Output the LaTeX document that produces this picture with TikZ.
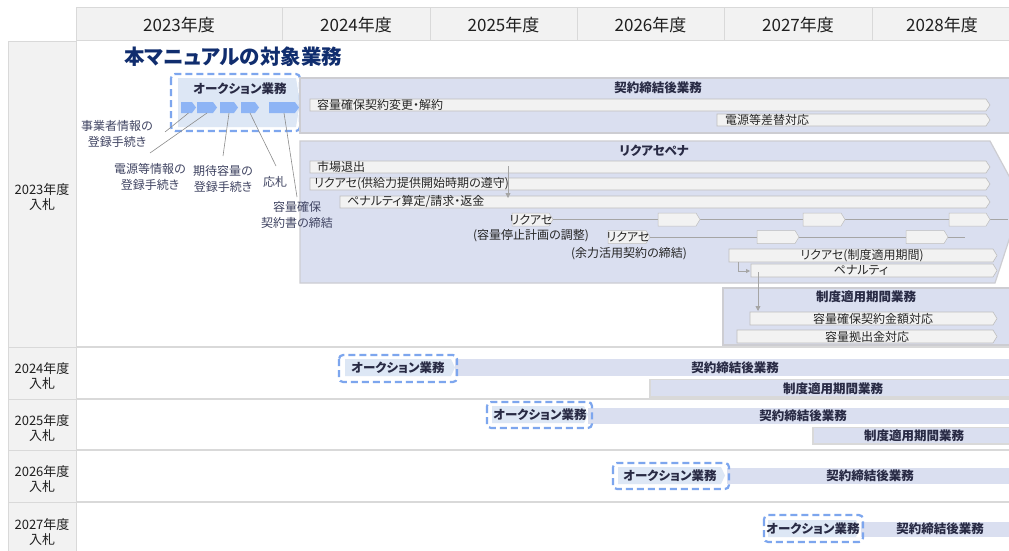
\documentclass[tikz,border=0pt]{standalone}
\usepackage{fontspec}
\setmainfont{Noto Sans CJK JP}[RawFeature={+palt}]
\usetikzlibrary{arrows.meta}
\definecolor{panelfill}{RGB}{218,223,240}
\definecolor{panelline}{RGB}{205,205,210}
\definecolor{auctfill}{RGB}{221,231,245}
\definecolor{chevblue}{RGB}{141,180,245}
\definecolor{dashblue}{RGB}{125,166,238}
\definecolor{barfill}{RGB}{242,242,242}
\definecolor{bardraw}{RGB}{190,190,190}
\definecolor{gridgray}{RGB}{217,217,217}
\definecolor{headfill}{RGB}{242,242,242}
\definecolor{titlenavy}{RGB}{16,45,110}
\definecolor{darktext}{RGB}{40,42,68}
\definecolor{slate}{RGB}{64,68,98}
\definecolor{arrowgray}{RGB}{165,165,165}
\definecolor{leadgray}{RGB}{140,140,140}
\newcommand{\shp}[6]{%
  \path[#6] (#2,#4) -- ({#3-4},#4) -- (#3,{(#4+#5)/2}) -- ({#3-4},#5) -- (#2,#5) -- cycle;
  \coordinate (#1) at ({(#2+#3)/2},{(#4+#5)/2});
  \coordinate (#1-s) at ({(#2+#3)/2},#5);
}
\tikzset{
  panel/.style={fill=panelfill, draw=panelline, line width=1.2pt},
  barsty/.style={fill=barfill, draw=bardraw, line width=0.6pt},
  tagsty/.style={fill=barfill, draw=bardraw, line width=0.5pt},
  chevsty/.style={fill=chevblue},
  auct/.style={fill=auctfill},
  dashbox/.style={draw=dashblue, line width=2.2pt, dash pattern=on 7pt off 4pt, rounded corners=4pt},
  txt/.style={font=\fontsize{12}{14}\selectfont, text=black!85, inner sep=0pt},
  btitle/.style={font=\bfseries\fontsize{12.5}{14}\selectfont, text=darktext, inner sep=0pt},
  leaderlbl/.style={font=\fontsize{12}{15.5}\selectfont, text=slate, align=center, inner sep=0pt},
  rowlbl/.style={font=\fontsize{13}{15.5}\selectfont, text=black!88, align=center, inner sep=0pt},
  head/.style={font=\fontsize{17}{19}\selectfont, text=black!88, inner sep=0pt},
  cell/.style={fill=headfill, draw=gridgray, line width=1pt},
  leader/.style={draw=leadgray, line width=0.6pt},
  garrow/.style={draw=arrowgray, line width=0.8pt, -{Triangle[length=5pt,width=5pt]}},
  tline/.style={draw=arrowgray, line width=0.8pt},
}
\begin{document}
\begin{tikzpicture}[x=1pt,y=-1pt]
\useasboundingbox (0,0) rectangle (1009,551);
\clip (0,0) rectangle (1009,551);
\fill[white] (0,0) rectangle (1009,551);
% header
\foreach \a/\b/\t [count=\i] in {76/282/2023年度,282/430/2024年度,430/577/2025年度,577/724/2026年度,724/872/2027年度,872/1012/2028年度}{
  \path[cell] (\a,8) rectangle (\b,41);
  \node[head] (h\i) at ({(\a+\b)/2},25) {\t};
}
% row labels
\foreach \a/\b/\t [count=\i] in {42/347/2023年度,347/399/2024年度,399/450/2025年度,450/502/2026年度,502/555/2027年度}{
  \path[cell] (8,\a) rectangle (76,\b);
}
\node[rowlbl] (r1) at (42,197) {2023年度\\入札};
\node[rowlbl] (r2) at (42,376) {2024年度\\入札};
\node[rowlbl] (r3) at (42,428) {2025年度\\入札};
\node[rowlbl] (r4) at (42,479) {2026年度\\入札};
\node[rowlbl] (r5) at (42,532) {2027年度\\入札};
% separators
\foreach \y in {347,399,450,502}{\draw[gridgray, line width=1.5pt] (76,\y) -- (1009,\y);}
% title
\node[anchor=west, inner sep=0pt, font=\bfseries\fontsize{20.5}{23}\selectfont, text=titlenavy] (title) at (124,57) {本マニュアルの対象業務};

% ===== row 1 =====
% auction box
\shp{auc1}{178}{300}{78}{127}{auct}
\node[btitle] (auc1t) at (240,89) {オークション業務};
\shp{ch1}{181}{196}{102}{113}{chevsty}
\shp{ch2}{197}{217}{102}{113}{chevsty}
\shp{ch3}{220}{238}{102}{113}{chevsty}
\shp{ch4}{241}{259}{102}{113}{chevsty}
\shp{ch5}{269}{299}{102}{113}{chevsty}
\draw[dashbox] (171,74) rectangle (300,131);

% contract panel
\path[panel] (300,78) rectangle (1014,133);
\node[btitle] (p1t) at (658,88) {契約締結後業務};
\shp{b1}{310}{990}{99}{111}{barsty}
\node[txt, anchor=west] (b1t) at (317,105) {容量確保契約変更・解約};
\shp{b2}{717}{990}{114}{126}{barsty}
\node[txt, anchor=west] (b2t) at (725,120) {電源等差替対応};

% penalty panel
\path[panel] (300,141) -- (990,141) -- (1022,200) -- (995,283) -- (300,283) -- cycle;
\node[btitle] (p2t) at (654,151) {リクアセペナ};
\shp{b3}{310}{990}{161}{173}{barsty}
\node[txt, anchor=west] (b3t) at (317,167) {市場退出};
\shp{b4}{310}{990}{178}{190}{barsty}
\node[txt, anchor=west] (b4t) at (314,184) {リクアセ(供給力提供開始時期の遵守)};
\shp{b5}{340}{990}{196}{208}{barsty}
\node[txt, anchor=west] (b5t) at (347,202) {ペナルティ算定/請求・返金};
\coordinate (a1s) at (508,166);
\coordinate (a1e) at (508,198);
\draw[garrow] (a1s) -- (a1e);
% timeline 1
\coordinate (tl1e) at (1008,219.5);
\shp{t1}{512}{553}{213}{226}{tagsty}
\draw[tline] (553,219.5) -- (tl1e);
\shp{t1a}{658}{700}{213}{226}{tagsty}
\shp{t1b}{803}{845}{213}{226}{tagsty}
\shp{t1c}{949}{990}{213}{226}{tagsty}
\node[txt] (t1t) at (531,219.5) {リクアセ};
\node[txt] (t1l) at (531,236) {(容量停止計画の調整)};
% timeline 2
\coordinate (tl2e) at (965,237);
\shp{t2}{608}{650}{230.5}{243.5}{tagsty}
\draw[tline] (650,237) -- (tl2e);
\shp{t2a}{757}{799}{230.5}{243.5}{tagsty}
\shp{t2b}{906}{948}{230.5}{243.5}{tagsty}
\node[txt] (t2t) at (628,237) {リクアセ};
\node[txt] (t2l) at (629,254) {(余力活用契約の締結)};
\shp{b6}{729}{997}{249}{262}{barsty}
\node[txt] (b6t) at (862,255.5) {リクアセ(制度適用期間)};
\shp{b7}{751}{997}{264}{277}{barsty}
\node[txt] (b7t) at (861,270.5) {ペナルティ};
\coordinate (a2s) at (738,262);
\coordinate (a2e) at (750,271);
\draw[garrow, -{Triangle[length=4pt,width=4pt]}] (a2s) |- (a2e);

% system period panel
\path[panel] (723,288) rectangle (1014,345);
\node[btitle] (p3t) at (866,297) {制度適用期間業務};
\shp{b8}{750}{997}{312}{325}{barsty}
\node[txt] (b8t) at (873,318.5) {容量確保契約金額対応};
\shp{b9}{737}{997}{330}{343}{barsty}
\node[txt] (b9t) at (867,336.5) {容量拠出金対応};
\coordinate (a3s) at (758,272);
\coordinate (a3e) at (758,311);
\draw[garrow] (a3s) -- (a3e);

% leader lines and labels
\node[leaderlbl] (l1) at (117,134) {事業者情報の\\登録手続き};
\node[leaderlbl] (l2) at (150,177) {電源等情報の\\登録手続き};
\node[leaderlbl] (l3) at (223,179) {期待容量の\\登録手続き};
\node[leaderlbl] (l4) at (275,182) {応札};
\node[leaderlbl] (l5) at (297,215) {容量確保\\契約書の締結};
\coordinate (e1) at (165,132);
\coordinate (e2) at (150,153);
\coordinate (e3) at (223,156);
\coordinate (e4) at (276,166);
\coordinate (e5) at (297,197);
\draw[leader] (ch1-s) -- (e1);
\draw[leader] (ch2-s) -- (e2);
\draw[leader] (ch3-s) -- (e3);
\draw[leader] (ch4-s) -- (e4);
\draw[leader] (ch5-s) -- (e5);

% ===== row 2 =====
\path[fill=panelfill] (455,359) rectangle (1012,376);
\node[btitle] (r2c) at (735,367.5) {契約締結後業務};
\path[fill=panelfill, draw=gridgray, line width=1.5pt] (650,379.5) rectangle (1014,397);
\node[btitle] (r2s) at (833,388.5) {制度適用期間業務};
\shp{auc2}{345}{455}{359}{376}{auct}
\node[btitle] (auc2t) at (398,367.5) {オークション業務};
\draw[dashbox] (339,355) rectangle (457,382);
% ===== row 3 =====
\path[fill=panelfill] (588,408) rectangle (1012,424);
\node[btitle] (r3c) at (803,416) {契約締結後業務};
\path[fill=panelfill, draw=gridgray, line width=1.5pt] (813,427.5) rectangle (1014,444);
\node[btitle] (r3s) at (914,435.5) {制度適用期間業務};
\shp{auc3}{492}{588}{406}{423}{auct}
\node[btitle] (auc3t) at (540,415) {オークション業務};
\draw[dashbox] (487,402) rectangle (592,428);
% ===== row 4 =====
\path[fill=panelfill] (727,468) rectangle (1012,484);
\node[btitle] (r4c) at (870,476) {契約締結後業務};
\shp{auc4}{618}{725}{467}{484}{auct}
\node[btitle] (auc4t) at (670,475.5) {オークション業務};
\draw[dashbox] (613,463) rectangle (729,489);
% ===== row 5 =====
\path[fill=panelfill] (861,522) rectangle (1012,537);
\node[btitle] (r5c) at (940,529) {契約締結後業務};
\shp{auc5}{768}{860}{520}{537}{auct}
\node[btitle] (auc5t) at (813,528.5) {オークション業務};
\draw[dashbox] (764,515) rectangle (863,542);
\end{tikzpicture}
\end{document}
